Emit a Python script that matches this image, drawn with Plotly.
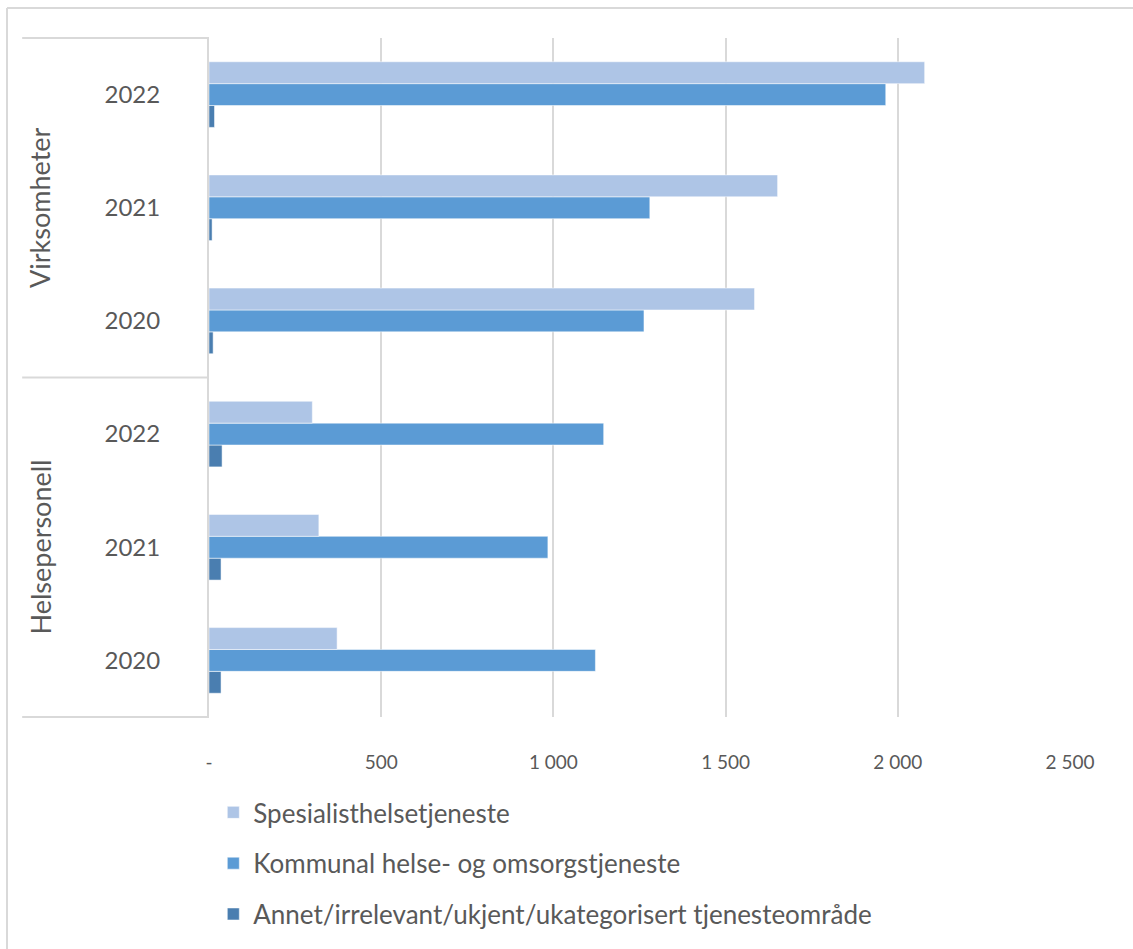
import plotly.graph_objects as go

groups = ["Helsepersonell", "Helsepersonell", "Helsepersonell",
          "Virksomheter", "Virksomheter", "Virksomheter"]
years = ["2020", "2021", "2022", "2020", "2021", "2022"]

spesialist = [372, 319, 300, 1584, 1651, 2078]
kommunal = [1122, 984, 1146, 1263, 1280, 1965]
annet = [35, 35, 38, 12, 9, 16]

series_names = ["Spesialisthelsetjeneste",
                "Kommunal helse- og omsorgstjeneste",
                "Annet/irrelevant/ukjent/ukategorisert tjenesteområde"]
series_values = [spesialist, kommunal, annet]
series_colors = ["#AEC5E6", "#5B9BD5", "#4A7EB0"]

x_tickvals = [0, 500, 1000, 1500, 2000, 2500]
x_ticktext = ["-", "500", "1 000", "1 500", "2 000", "2 500"]

keys = [g + "|" + y for g, y in zip(groups, years)]

FONT = "Lato, Open Sans, sans-serif"
GRID = "#D9D9D9"
TXT = "#595959"

fig = go.Figure()
# add in reverse so the first series sits on top within each group
for i in reversed(range(len(series_names))):
    fig.add_trace(go.Bar(
        y=keys, x=series_values[i], name=series_names[i], orientation="h",
        marker=dict(color=series_colors[i], line=dict(color="rgba(255,255,255,0.5)", width=1)),
        legendgroup=str(i), legendrank=i + 1,
    ))

fig.update_layout(
    width=1133, height=949,
    margin=dict(l=209, r=63, t=38, b=232, autoexpand=False),
    paper_bgcolor="white", plot_bgcolor="white",
    barmode="group", bargap=0.42, bargroupgap=0,
    font=dict(family=FONT, color=TXT),
    showlegend=True,
    legend=dict(x=0.005, y=-0.106, xanchor="left", yanchor="top",
                font=dict(size=26, color=TXT, family=FONT),
                tracegroupgap=14, traceorder="grouped", itemwidth=30,
                bgcolor="rgba(0,0,0,0)"),
    xaxis=dict(range=[0, 2500], tickvals=x_tickvals, ticktext=x_ticktext,
               showgrid=True, gridcolor=GRID, gridwidth=2, zeroline=False,
               showline=False, ticks="", ticklabelstandoff=32,
               tickfont=dict(size=19, color=TXT, family=FONT)),
    yaxis=dict(categoryorder="array", categoryarray=keys,
               tickvals=keys, ticktext=years,
               showgrid=False, zeroline=False, showline=True,
               linecolor=GRID, linewidth=2, ticks="",
               ticklabelstandoff=42,
               tickfont=dict(size=24, color=TXT, family=FONT)),
)

# group divider lines on the category axis
for yv in [0, 0.5, 1]:
    fig.add_shape(type="line", xref="paper", yref="paper",
                  x0=-0.217, x1=0, y0=yv, y1=yv,
                  line=dict(color=GRID, width=2))

# group labels
for g, yv in [("Helsepersonell", 0.25), ("Virksomheter", 0.75)]:
    fig.add_annotation(text=g, xref="paper", yref="paper", x=-0.196, y=yv,
                       xanchor="center", yanchor="middle",
                       textangle=-90, showarrow=False,
                       font=dict(size=27, color=TXT, family=FONT))

# outer chart-area border
fig.add_shape(type="line", xref="paper", yref="paper",
              x0=-0.2346, x1=1.1, y0=1.044, y1=1.044,
              line=dict(color=GRID, width=2))
fig.add_shape(type="line", xref="paper", yref="paper",
              x0=-0.2346, x1=-0.2346, y0=1.044, y1=-0.4,
              line=dict(color=GRID, width=2))

fig.write_html("out.html")
